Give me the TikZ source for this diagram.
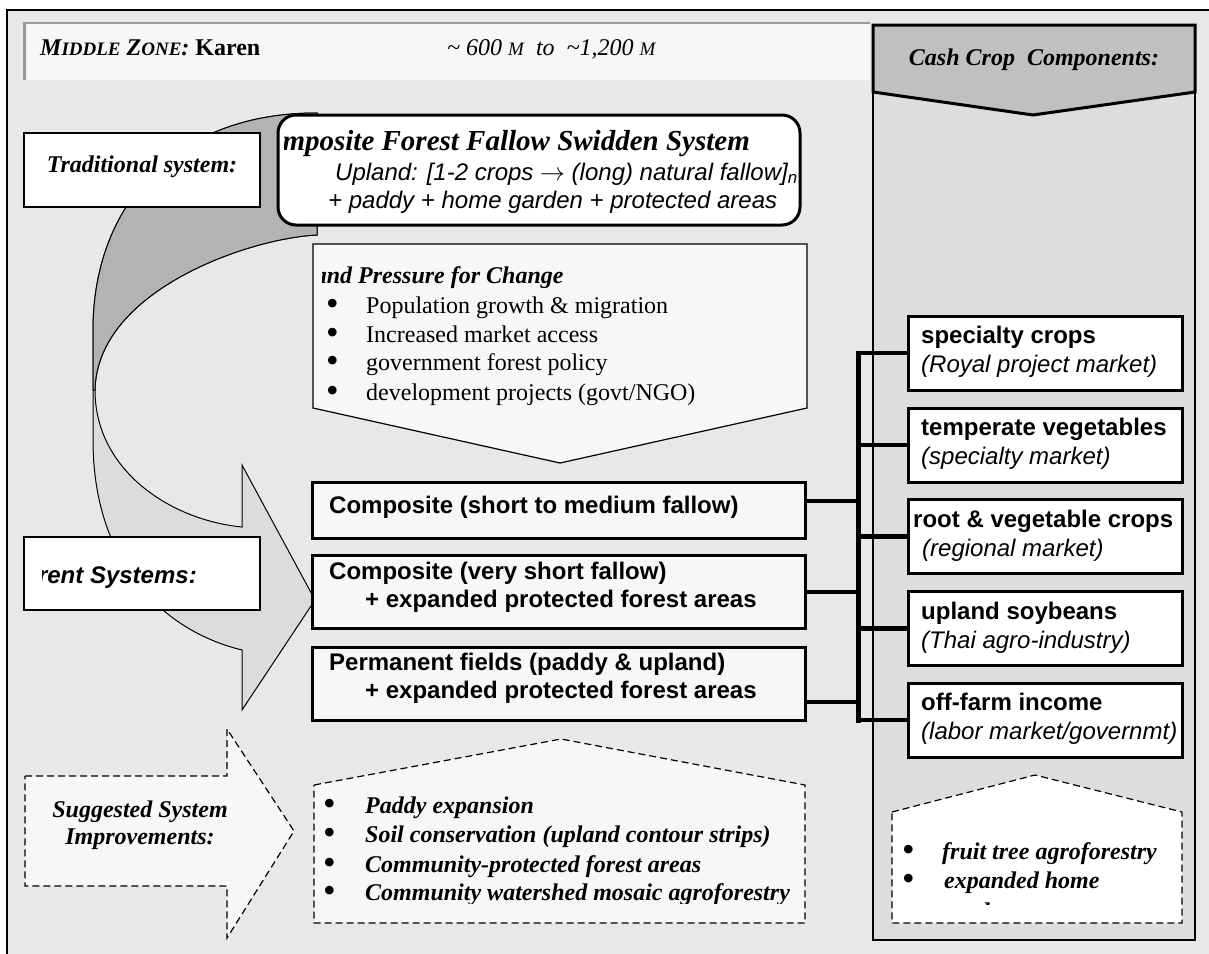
\documentclass[tikz,border=0pt]{standalone}
\usepackage{fontspec}
\setmainfont{Liberation Serif}
\newfontfamily\arial{Liberation Sans}
\usetikzlibrary{calc}
\newcommand\fsz[1]{\fontsize{#1}{#1}\selectfont}
\newcommand\bigdot{\smash{\raisebox{-2.5pt}{\fsz{36}\mdseries\upshape •}}}

\definecolor{framebg}{HTML}{E8E8E8}
\definecolor{paper}{HTML}{F7F7F7}
\definecolor{columnbg}{HTML}{DDDDDD}
\definecolor{headgray}{HTML}{C0C0C0}
\definecolor{arrowdark}{HTML}{B3B3B3}
\definecolor{arrowlight}{HTML}{DCDCDC}
\definecolor{rulegray}{HTML}{999999}

\begin{document}
\begin{tikzpicture}[x=1pt,y=-1pt,
  txt/.style={inner sep=0pt, anchor=base west, font=\fsz{24}},
  serifbi/.style={font=\fsz{24}\bfseries\itshape},
  sansb/.style={font=\arial\fsz{24}\bfseries},
  sansi/.style={font=\arial\fsz{24}\itshape},
  thinline/.style={draw=black, line width=1.2pt},
  thickline/.style={draw=black, line width=3pt},
  dashline/.style={draw=black, line width=1.2pt, dash pattern=on 7pt off 4pt},
  labelbox/.style={thinline, fill=white, inner sep=0pt},
  sysbox/.style={thickline, fill=paper, inner sep=0pt, minimum width=493pt},
  cropbox/.style={thickline, fill=white, inner sep=0pt, minimum width=274pt, minimum height=74pt},
  conn/.style={draw=black, line width=4.5pt},
  bus/.style={draw=black, line width=5pt, line cap=rect},
]
\useasboundingbox (0,0) rectangle (1209,953);
\fill[white] (0,0) rectangle (1209,953);

% outer frame
\filldraw[fill=framebg, draw=black, line width=1.2pt] (7,10) rectangle (1230,980);

% zone header strip
\fill[paper] (23,22) rectangle (870,80);
\draw[rulegray, line width=3pt] (24.5,80) -- (24.5,22);
\draw[rulegray, line width=2pt] (23,23) -- (870,23);
\node[txt, font=\fsz{24}] (zone) at (40,55)
  {\bfseries\itshape M{\fsz{19}IDDLE} Z{\fsz{19}ONE}: \upshape Karen};
\node[txt, font=\fsz{24}\itshape] (alt) at (447,55)
  {\textasciitilde\ 600 {\fsz{19}M}\ \ to\ \ \textasciitilde 1,200 {\fsz{19}M}};

% cash crop column
\filldraw[fill=columnbg, thinline] (873,25) rectangle (1195,940);
\filldraw[fill=headgray, thickline, line join=miter]
  (873,25) -- (1195,25) -- (1195,92) -- (1033,115) -- (873,92) -- cycle;
\node[txt, anchor=base, serifbi] (cashhead) at (1034,65) {Cash Crop\ \ Components:};

% curved transition arrow
\filldraw[fill=arrowlight, draw=black, line width=1pt, line join=miter]
  (317,113) .. controls (170,113) and (93,210) .. (93,330)
  -- (93,440) .. controls (93,560) and (160,630) .. (242,650)
  -- (242,710) -- (315,600) -- (242,465) -- (242,527)
  .. controls (170,520) and (95,470) .. (95,390)
  .. controls (97,290) and (250,238) .. (317,235) -- cycle;
\filldraw[fill=arrowdark, draw=black, line width=1pt]
  (317,113) .. controls (170,113) and (93,210) .. (93,330)
  -- (93,390) -- (95,390)
  .. controls (97,290) and (250,238) .. (317,235) -- cycle;

% traditional system
\node[labelbox, minimum width=236pt, minimum height=74pt] (trad) at (142,170) {};
\node[txt, anchor=base, serifbi] (tradtxt) at (142,172) {Traditional system:};

\draw[thickline, fill=white, rounded corners=18pt] (278,115) rectangle (800,225);
\coordinate (cfbox) at (539,170);
\begin{scope}
  \clip (284,115) rectangle (800,225);
  \node[txt, anchor=base east, font=\fsz{29}\bfseries\itshape] (cftitle) at (750,150)
    {Composite Forest Fallow Swidden System};
  \node[txt, sansi] (cfline1) at (335,180)
    {Upland: [1-2 crops {\upshape$\rightarrow$} (long) natural fallow]\textsubscript{n}};
  \node[txt, sansi] (cfline2) at (328,208) {+ paddy + home garden + protected areas};
\end{scope}

% pressure for change
\filldraw[fill=paper, thinline]
  (313,244) -- (807,244) -- (807,408) -- (560,463) -- (313,408) -- cycle;
\begin{scope}
  \clip (322,244) rectangle (807,463);
  \node[txt, serifbi] (prtitle) at (300,283) {Land Pressure for Change};
  \node[txt] (pb1) at (326,313) {\bigdot};
  \node[txt] (pt1) at (366,313) {Population growth \& migration};
  \node[txt] (pb2) at (326,342) {\bigdot};
  \node[txt] (pt2) at (366,342) {Increased market access};
  \node[txt] (pb3) at (326,370) {\bigdot};
  \node[txt] (pt3) at (366,370) {government forest policy};
  \node[txt] (pb4) at (326,400) {\bigdot};
  \node[txt] (pt4) at (366,400) {development projects (govt/NGO)};
\end{scope}

% current systems
\node[labelbox, minimum width=236pt, minimum height=73pt] (curr) at (142,573.5) {};
\begin{scope}
  \clip (42,537) rectangle (260,610);
  \node[txt, anchor=base east, font=\arial\fsz{24}\bfseries\itshape] (currtxt) at (197,583)
    {Current Systems:};
\end{scope}

\node[sysbox, minimum height=56pt] (sys1) at (558.5,510) {};
\node[txt, sansb] (sys1a) at (329,513) {Composite (short to medium fallow)};
\node[sysbox, minimum height=73pt] (sys2) at (558.5,591.5) {};
\node[txt, sansb] (sys2a) at (329,579) {Composite (very short fallow)};
\node[txt, sansb] (sys2b) at (365,607) {+ expanded protected forest areas};
\node[sysbox, minimum height=73pt] (sys3) at (558.5,683.5) {};
\node[txt, sansb] (sys3a) at (329,670) {Permanent fields (paddy \& upland)};
\node[txt, sansb] (sys3b) at (365,698) {+ expanded protected forest areas};

% cash crop components
\node[cropbox] (cc1) at (1045,353) {};
\node[txt, sansb] (cc1a) at (921,343) {specialty crops};
\node[txt, sansi] (cc1b) at (921,372) {(Royal project market)};
\node[cropbox] (cc2) at (1045,445) {};
\node[txt, sansb] (cc2a) at (921,435) {temperate vegetables};
\node[txt, sansi] (cc2b) at (921,464) {(specialty market)};
\node[cropbox] (cc3) at (1045,536.5) {};
\node[txt, sansb] (cc3a) at (913,527) {root \& vegetable crops};
\node[txt, sansi] (cc3b) at (922,556) {(regional market)};
\node[cropbox] (cc4) at (1045,628.5) {};
\node[txt, sansb] (cc4a) at (921,619) {upland soybeans};
\node[txt, sansi] (cc4b) at (921,648) {(Thai agro-industry)};
\node[cropbox] (cc5) at (1045,720) {};
\node[txt, sansb] (cc5a) at (921,710) {off-farm income};
\node[txt, sansi] (cc5b) at (921,739) {(labor market/governmt)};

% links between systems and cash crops
\coordinate (bus) at (858,0);
\coordinate (j1) at (858,501);
\coordinate (j2) at (858,592);
\coordinate (j3) at (858,702);
\draw[bus] (cc1.west -| bus) -- (cc5.west -| bus);
\foreach \c in {cc1,cc2,cc3,cc4,cc5} \draw[conn] (\c.west -| bus) -- (\c.west);
\draw[conn] (sys1.east |- j1) -- (j1);
\draw[conn] (sys2.east |- j2) -- (j2);
\draw[conn] (sys3.east |- j3) -- (j3);

% suggested improvements
\filldraw[fill=paper, dashline]
  (25,776) -- (227,776) -- (227,729) -- (294,831) -- (227,938) -- (227,886) -- (25,886) -- cycle;
\node[txt, anchor=base, serifbi] (sugg1) at (140,817) {Suggested System};
\node[txt, anchor=base, serifbi] (sugg2) at (140,844) {Improvements:};

\filldraw[fill=paper, dashline]
  (314,785) -- (561,739) -- (805,785) -- (805,923) -- (314,923) -- cycle;
\begin{scope}
  \clip (314,739) rectangle (805,903);
  \node[txt] (ib1) at (323,813) {\bigdot};
  \node[txt, serifbi] (it1) at (365,813) {Paddy expansion};
  \node[txt] (ib2) at (323,842) {\bigdot};
  \node[txt, serifbi] (it2) at (365,842) {Soil conservation (upland contour strips)};
  \node[txt] (ib3) at (323,872) {\bigdot};
  \node[txt, serifbi] (it3) at (365,872) {Community-protected forest areas};
  \node[txt] (ib4) at (323,900) {\bigdot};
  \node[txt, serifbi] (it4) at (365,900) {Community watershed mosaic agroforestry};
\end{scope}

\filldraw[fill=white, dashline]
  (892,812) -- (1035,775) -- (1182,812) -- (1182,923) -- (892,923) -- cycle;
\begin{scope}
  \clip (892,775) rectangle (1182,904);
  \node[txt] (fb1) at (902,859) {\bigdot};
  \node[txt, serifbi] (ft1) at (942,859) {fruit tree agroforestry};
  \node[txt] (fb2) at (902,888) {\bigdot};
  \node[txt, serifbi] (ft2) at (944,888) {expanded home};
  \node[txt, serifbi] (ft3) at (944,919) {garden};
\end{scope}
\end{tikzpicture}
\end{document}
